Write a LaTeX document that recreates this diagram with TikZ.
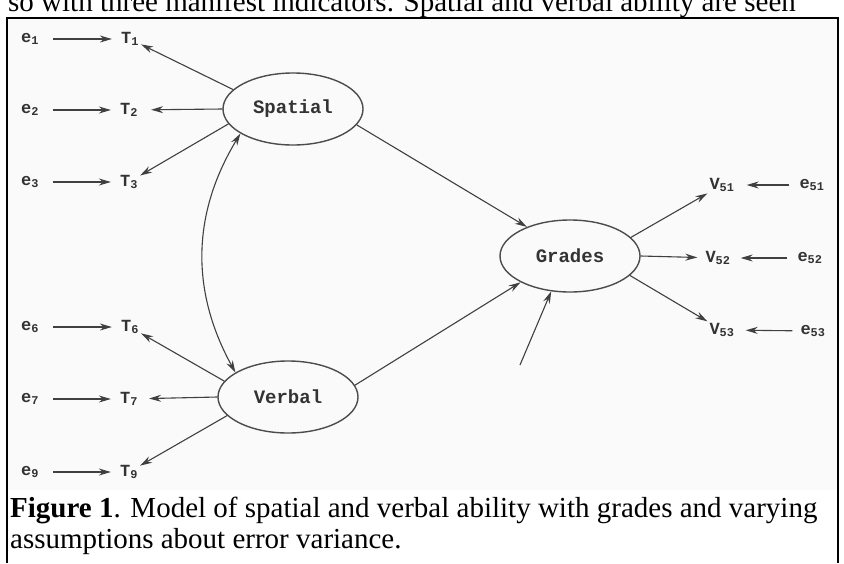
\documentclass[tikz,border=0pt]{standalone}
\usepackage{fontspec}
\setmainfont{Liberation Serif}
\setmonofont{Liberation Mono}
\usetikzlibrary{shapes.geometric,arrows.meta}

\newcommand{\sv}[2]{#1\textsubscript{#2}}

\begin{document}
\begin{tikzpicture}[x=1pt, y=-1pt,
	var/.style={font=\ttfamily\bfseries\fontsize{17}{17}\selectfont, text=black!80, inner sep=2pt},
	latent/.style={draw=black!70, ellipse, line width=1.4pt, minimum width=140pt, minimum height=72pt,
		font=\ttfamily\bfseries\fontsize{19}{19}\selectfont, text=black!80},
	arr/.style={draw=black!75, line width=1.1pt, -{Stealth[length=12pt,width=7pt]}},
	capt/.style={anchor=base west, inner sep=0pt, font=\fontsize{29}{31}\selectfont}]
\useasboundingbox (0,0) rectangle (844,563);
\clip (0,0) rectangle (844,563);

% frame and caption
\fill[black!2] (7,18) rectangle (838,490);
\draw[line width=2pt] (7,563) -- (7,18) -- (838,18) -- (838,563);
\node[capt] (prev) at (8,11) {so with three manifest indicators. Spatial and verbal ability are seen};
\node[capt] (cap1) at (10,517) {\textbf{Figure 1}. Model of spatial and verbal ability with grades and varying};
\node[capt] (cap2) at (10,548) {assumptions about error variance.};

% latent variables
\node[latent] (sp) at (293,109) {Spatial};
\node[latent] (vb) at (288,397) {Verbal};
\node[latent] (gr) at (570,256) {Grades};

% indicators
\node[var] (e1) at (30,39) {\sv{e}{1}};
\node[var] (e2) at (30,110) {\sv{e}{2}};
\node[var] (e3) at (30,182) {\sv{e}{3}};
\node[var] (e6) at (30,327) {\sv{e}{6}};
\node[var] (e7) at (30,399) {\sv{e}{7}};
\node[var] (e9) at (30,472) {\sv{e}{9}};
\node[var] (t1) at (130,39) {\sv{T}{1}};
\node[var] (t2) at (129,110) {\sv{T}{2}};
\node[var] (t3) at (129,182) {\sv{T}{3}};
\node[var] (t6) at (130,327) {\sv{T}{6}};
\node[var] (t7) at (129,399) {\sv{T}{7}};
\node[var] (t9) at (129,472) {\sv{T}{9}};

\node[var] (v51) at (722,185) {\sv{V}{51}};
\node[var] (v52) at (718,258) {\sv{V}{52}};
\node[var] (v53) at (722,330) {\sv{V}{53}};
\node[var] (e51) at (812,185) {\sv{e}{51}};
\node[var] (e52) at (810,258) {\sv{e}{52}};
\node[var] (e53) at (813,331) {\sv{e}{53}};
\coordinate (dist) at (520,365);

% errors
\draw[arr, shorten <=12pt, shorten >=7pt] (e1) -- (t1);
\draw[arr, shorten <=12pt, shorten >=7pt] (e2) -- (t2);
\draw[arr, shorten <=12pt, shorten >=7pt] (e3) -- (t3);
\draw[arr, shorten <=12pt, shorten >=7pt] (e6) -- (t6);
\draw[arr, shorten <=12pt, shorten >=7pt] (e7) -- (t7);
\draw[arr, shorten <=12pt, shorten >=7pt] (e9) -- (t9);
\draw[arr, shorten <=8pt, shorten >=10pt] (e51) -- (v51);
\draw[arr, shorten <=8pt, shorten >=8pt] (e52) -- (v52);
\draw[arr, shorten <=6pt, shorten >=9pt] (e53) -- (v53);

% loadings
\draw[arr] (sp.162) -- (t1);
\draw[arr, shorten >=11pt] (sp.west) -- (t2);
\draw[arr] (sp.193) -- (t3);
\draw[arr] (vb.166) -- (t6);
\draw[arr, shorten >=9pt] (vb.west) -- (t7);
\draw[arr] (vb.197) -- (t9);
\draw[arr] (gr.17) -- (v51);
\draw[arr, shorten >=6pt] (gr.east) -- (v52);
\draw[arr] (gr.342) -- (v53);

% structural part
\draw[arr, {Stealth[length=12pt,width=7pt]}-{Stealth[length=12pt,width=7pt]}] (sp.205) to[bend right=30] (vb.155);
\draw[arr] (sp.346) -- (gr.146);
\draw[arr] (vb.10) -- (gr.208);
\draw[arr] (dist) -- (gr.242);
\end{tikzpicture}
\end{document}
